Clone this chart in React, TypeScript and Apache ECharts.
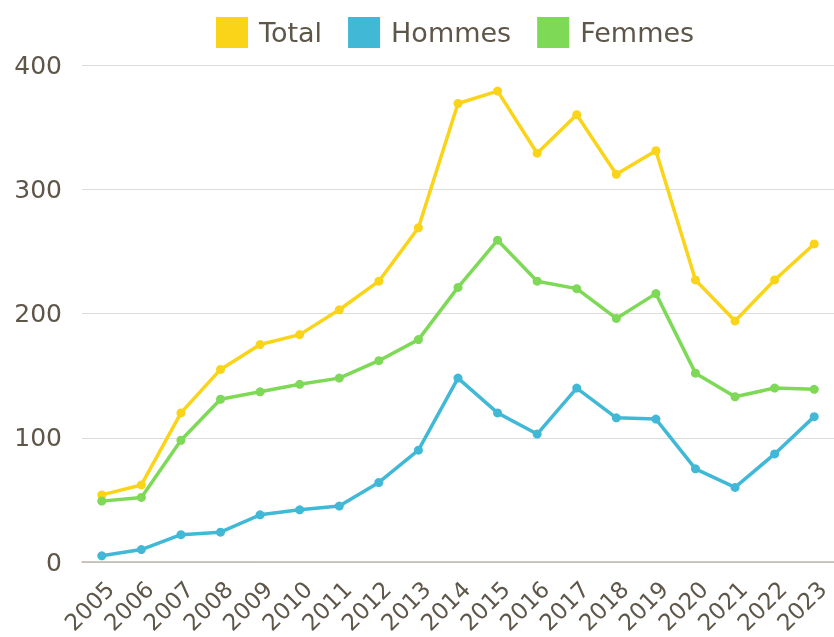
import React, { useEffect, useRef } from "react";
import * as echarts from "echarts";

const years = ["2005","2006","2007","2008","2009","2010","2011","2012","2013","2014","2015","2016","2017","2018","2019","2020","2021","2022","2023"];
const total = [54, 62, 120, 155, 175, 183, 203, 226, 269, 369, 379, 329, 360, 312, 331, 227, 194, 227, 256];
const hommes = [5, 10, 22, 24, 38, 42, 45, 64, 90, 148, 120, 103, 140, 116, 115, 75, 60, 87, 117];
const femmes = [49, 52, 98, 131, 137, 143, 148, 162, 179, 221, 259, 226, 220, 196, 216, 152, 133, 140, 139];

const TEXT = "#5e5649";
const FONT = "'DejaVu Sans', 'Open Sans', sans-serif";

export default function App() {
  const ref = useRef<HTMLDivElement>(null);
  useEffect(() => {
    const chart = echarts.init(ref.current!, undefined, { renderer: "svg" });
    const mk = (name: string, data: number[], color: string) => ({
      name,
      type: "line",
      data,
      symbol: "circle",
      symbolSize: 9,
      lineStyle: { width: 3.5, color },
      itemStyle: { color },
      color,
    });
    chart.setOption({
      animation: false,
      textStyle: { fontFamily: FONT },
      legend: {
        left: 211,
        top: 12,
        itemWidth: 32,
        itemHeight: 31,
        itemGap: 26,
        icon: "rect",
        textStyle: { fontSize: 27, color: TEXT, fontFamily: FONT, padding: [0, 0, 0, 6] },
        data: ["Total", "Hommes", "Femmes"],
      },
      grid: { left: 82, top: 65, width: 755, height: 497, containLabel: false },
      xAxis: {
        type: "category",
        data: years,
        boundaryGap: true,
        axisLine: { lineStyle: { color: "#bdb8ae", width: 1.5 } },
        axisTick: { show: false },
        axisLabel: { rotate: 45, fontSize: 23, color: TEXT, fontFamily: FONT, margin: 15, interval: 0, verticalAlign: "top" },
      },
      yAxis: {
        type: "value",
        min: 0,
        max: 400,
        interval: 100,
        axisLine: { show: false },
        axisTick: { show: false },
        splitLine: { lineStyle: { color: "#dcdcdc", width: 1 } },
        axisLabel: { fontSize: 25, color: TEXT, fontFamily: FONT, margin: 20 },
      },
      series: [
        mk("Total", total, "#fad419"),
        mk("Hommes", hommes, "#41b8d6"),
        mk("Femmes", femmes, "#7dd956"),
      ],
    });
    return () => chart.dispose();
  }, []);
  return <div ref={ref} style={{ position: "fixed", left: 0, top: 0, width: 834, height: 637 }} />;
}
